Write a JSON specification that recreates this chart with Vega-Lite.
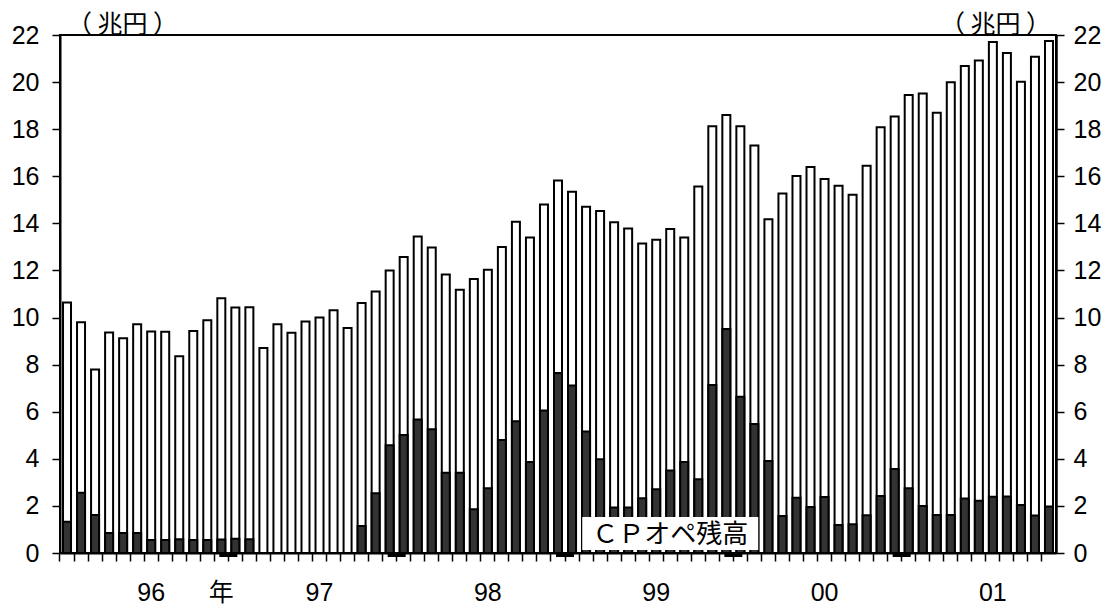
{
  "$schema": "https://vega.github.io/schema/vega-lite/v6.json",
  "width": 996,
  "height": 518,
  "autosize": {"type": "none"},
  "padding": {"left": 60, "top": 35, "right": 55, "bottom": 55},
  "background": "white",
  "config": {
    "font": "Liberation Sans",
    "view": {"stroke": "black", "strokeWidth": 2},
    "axis": {"labelFont": "Liberation Sans, Noto Sans CJK JP", "labelFontSize": 25, "labelColor": "black", "domainColor": "black", "tickColor": "black", "grid": false, "zindex": 1, "titleColor": "black"}
  },
  "data": {"values": [
    {"month": "1996-01", "cp": 10.64, "ope": 1.33},
    {"month": "1996-02", "cp": 9.80, "ope": 2.56},
    {"month": "1996-03", "cp": 7.79, "ope": 1.61},
    {"month": "1996-04", "cp": 9.36, "ope": 0.85},
    {"month": "1996-05", "cp": 9.12, "ope": 0.85},
    {"month": "1996-06", "cp": 9.72, "ope": 0.85},
    {"month": "1996-07", "cp": 9.41, "ope": 0.55},
    {"month": "1996-08", "cp": 9.40, "ope": 0.55},
    {"month": "1996-09", "cp": 8.36, "ope": 0.58},
    {"month": "1996-10", "cp": 9.43, "ope": 0.55},
    {"month": "1996-11", "cp": 9.89, "ope": 0.55},
    {"month": "1996-12", "cp": 10.82, "ope": 0.57},
    {"month": "1997-01", "cp": 10.43, "ope": 0.60},
    {"month": "1997-02", "cp": 10.44, "ope": 0.58},
    {"month": "1997-03", "cp": 8.71, "ope": null},
    {"month": "1997-04", "cp": 9.72, "ope": null},
    {"month": "1997-05", "cp": 9.35, "ope": null},
    {"month": "1997-06", "cp": 9.83, "ope": null},
    {"month": "1997-07", "cp": 10.00, "ope": null},
    {"month": "1997-08", "cp": 10.31, "ope": null},
    {"month": "1997-09", "cp": 9.56, "ope": null},
    {"month": "1997-10", "cp": 10.62, "ope": 1.15},
    {"month": "1997-11", "cp": 11.11, "ope": 2.54},
    {"month": "1997-12", "cp": 12.00, "ope": 4.58},
    {"month": "1998-01", "cp": 12.57, "ope": 5.01},
    {"month": "1998-02", "cp": 13.44, "ope": 5.67},
    {"month": "1998-03", "cp": 12.98, "ope": 5.26},
    {"month": "1998-04", "cp": 11.83, "ope": 3.41},
    {"month": "1998-05", "cp": 11.18, "ope": 3.41},
    {"month": "1998-06", "cp": 11.64, "ope": 1.86},
    {"month": "1998-07", "cp": 12.03, "ope": 2.75},
    {"month": "1998-08", "cp": 13.00, "ope": 4.80},
    {"month": "1998-09", "cp": 14.07, "ope": 5.60},
    {"month": "1998-10", "cp": 13.40, "ope": 3.87},
    {"month": "1998-11", "cp": 14.80, "ope": 6.05},
    {"month": "1998-12", "cp": 15.82, "ope": 7.64},
    {"month": "1999-01", "cp": 15.34, "ope": 7.11},
    {"month": "1999-02", "cp": 14.71, "ope": 5.16},
    {"month": "1999-03", "cp": 14.53, "ope": 3.98},
    {"month": "1999-04", "cp": 14.05, "ope": 1.93},
    {"month": "1999-05", "cp": 13.78, "ope": 1.93},
    {"month": "1999-06", "cp": 13.15, "ope": 2.32},
    {"month": "1999-07", "cp": 13.30, "ope": 2.71},
    {"month": "1999-08", "cp": 13.76, "ope": 3.50},
    {"month": "1999-09", "cp": 13.40, "ope": 3.87},
    {"month": "1999-10", "cp": 15.57, "ope": 3.13},
    {"month": "1999-11", "cp": 18.12, "ope": 7.14},
    {"month": "1999-12", "cp": 18.60, "ope": 9.51},
    {"month": "2000-01", "cp": 18.12, "ope": 6.64},
    {"month": "2000-02", "cp": 17.31, "ope": 5.48},
    {"month": "2000-03", "cp": 14.18, "ope": 3.91},
    {"month": "2000-04", "cp": 15.27, "ope": 1.57},
    {"month": "2000-05", "cp": 16.01, "ope": 2.35},
    {"month": "2000-06", "cp": 16.39, "ope": 1.95},
    {"month": "2000-07", "cp": 15.88, "ope": 2.38},
    {"month": "2000-08", "cp": 15.60, "ope": 1.19},
    {"month": "2000-09", "cp": 15.21, "ope": 1.22},
    {"month": "2000-10", "cp": 16.45, "ope": 1.60},
    {"month": "2000-11", "cp": 18.08, "ope": 2.42},
    {"month": "2000-12", "cp": 18.54, "ope": 3.57},
    {"month": "2001-01", "cp": 19.45, "ope": 2.75},
    {"month": "2001-02", "cp": 19.52, "ope": 2.00},
    {"month": "2001-03", "cp": 18.70, "ope": 1.61},
    {"month": "2001-04", "cp": 19.99, "ope": 1.61},
    {"month": "2001-05", "cp": 20.68, "ope": 2.31},
    {"month": "2001-06", "cp": 20.92, "ope": 2.22},
    {"month": "2001-07", "cp": 21.70, "ope": 2.39},
    {"month": "2001-08", "cp": 21.24, "ope": 2.40},
    {"month": "2001-09", "cp": 20.01, "ope": 2.04},
    {"month": "2001-10", "cp": 21.08, "ope": 1.59},
    {"month": "2001-11", "cp": 21.75, "ope": 1.97}
  ]},
  "layer": [
    {
      "mark": {"type": "bar", "fill": "white", "stroke": "black", "strokeWidth": 2, "width": 8},
      "encoding": {
        "x": {"field": "month", "type": "ordinal", "scale": {"paddingInner": 0, "paddingOuter": 0},
          "axis": {"orient": "bottom", "labels": false, "title": null, "bandPosition": 0, "tickSize": 8, "tickWidth": 1.5, "domainWidth": 2}},
        "y": {"field": "cp", "type": "quantitative", "scale": {"domain": [0, 22], "nice": false},
          "axis": {"orient": "left", "values": [0, 2, 4, 6, 8, 10, 12, 14, 16, 18, 20, 22], "tickSize": 8, "tickWidth": 1.5, "domainWidth": 2, "labelPadding": 13,
            "title": "（ 兆円 ）", "titleAngle": 0, "titleX": 62, "titleY": -3, "titleAlign": "center", "titleBaseline": "alphabetic", "titleFont": "Noto Sans CJK JP", "titleFontSize": 25, "titleFontWeight": "normal"}}
      }
    },
    {
      "mark": {"type": "bar", "fill": "#333333", "stroke": "black", "strokeWidth": 2, "width": 8},
      "encoding": {
        "x": {"field": "month", "type": "ordinal",
          "axis": {"orient": "bottom", "title": null, "ticks": false, "domain": false, "labelPadding": 39, "labelBaseline": "middle", "labelAngle": 0,
            "values": ["1996-07", "1996-12", "1997-07", "1998-07", "1999-07", "2000-07", "2001-07"],
            "labelExpr": "datum.value == '1996-12' ? '年' : substring(datum.value, 2, 4)"}},
        "y": {"field": "ope", "type": "quantitative",
          "axis": {"orient": "right", "values": [0, 2, 4, 6, 8, 10, 12, 14, 16, 18, 20, 22], "tickSize": 8, "tickWidth": 1.5, "domainWidth": 2.5, "labelPadding": 9,
            "title": "（ 兆円 ）", "titleAngle": 0, "titleX": -61, "titleY": -3, "titleAlign": "center", "titleBaseline": "alphabetic", "titleFont": "Noto Sans CJK JP", "titleFontSize": 25, "titleFontWeight": "normal"}}
      }
    },
    {
      "data": {"values": [{"month": "1996-12"}, {"month": "1997-12"}, {"month": "1998-12"}, {"month": "1999-12"}, {"month": "2000-12"}]},
      "mark": {"type": "tick", "orient": "horizontal", "size": 18, "thickness": 4, "xOffset": 7, "yOffset": 2, "color": "black", "opacity": 1},
      "encoding": {
        "x": {"field": "month", "type": "ordinal", "axis": null},
        "y": {"datum": 0, "type": "quantitative", "axis": null}
      }
    },
    {
      "data": {"values": [{"label": "ＣＰオペ残高"}]},
      "mark": {"type": "bar", "fill": "white", "strokeWidth": 0, "width": 176},
      "encoding": {
        "x": {"datum": "1999-08", "type": "ordinal", "axis": null},
        "y": {"datum": 0.13, "type": "quantitative", "axis": null},
        "y2": {"datum": 1.53}
      }
    },
    {
      "data": {"values": [{"label": "ＣＰオペ残高"}]},
      "mark": {"type": "text", "font": "Noto Sans CJK JP", "fontSize": 26, "align": "center", "baseline": "middle", "color": "black"},
      "encoding": {
        "x": {"datum": "1999-08", "type": "ordinal", "axis": null},
        "y": {"datum": 0.78, "type": "quantitative", "axis": null},
        "text": {"field": "label"}
      }
    }
  ],
  "resolve": {"axis": {"x": "independent", "y": "independent"}}
}
